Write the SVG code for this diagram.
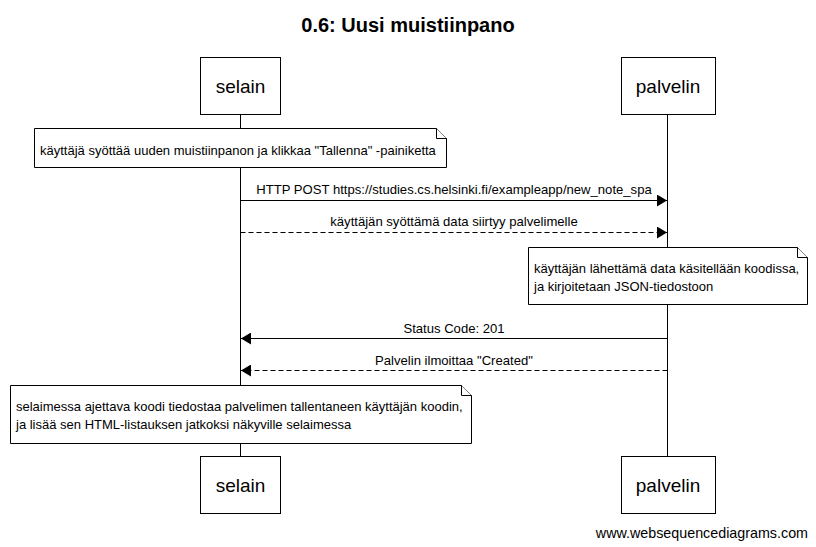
<svg xmlns="http://www.w3.org/2000/svg" width="816" height="547" viewBox="0 0 816 547">
<defs>
<style>
text{font-family:"Liberation Sans",Arial,sans-serif;fill:#000}
.t{font-size:13px}
.p{font-size:19px;text-anchor:middle}
.box{fill:#fff;stroke:#000;stroke-width:1}
.note{fill:#fff;stroke:#000;stroke-width:1}
.life{stroke:#000;stroke-width:1}
.msg{stroke:#000;stroke-width:1;fill:none}
.dash{stroke-dasharray:5,3}
.lbl{font-size:13.1px;text-anchor:middle}
</style>
<marker id="ah" viewBox="0 0 10 12" refX="10" refY="6" markerWidth="10" markerHeight="12" markerUnits="userSpaceOnUse" orient="auto">
<path d="M0,0 L10,6 L0,12 Z" fill="#000"/>
</marker>
</defs>
<rect width="816" height="547" fill="#fff"/>
<text x="408" y="32" style="font-size:20px;font-weight:bold;text-anchor:middle">0.6: Uusi muistiinpano</text>
<g id="lifelines">
<line class="life" x1="240.5" y1="114" x2="240.5" y2="456"/>
<line class="life" x1="667.5" y1="114" x2="667.5" y2="456"/>
</g>
<g id="selain">
<rect class="box" x="200.5" y="57.5" width="80" height="57"/>
<text class="p" x="240.5" y="93">selain</text>
</g>
<g id="palvelin">
<rect class="box" x="621.5" y="57.5" width="94" height="57"/>
<text class="p" x="668" y="93">palvelin</text>
</g>
<g id="selain-bottom">
<rect class="box" x="200.5" y="456.5" width="80" height="57"/>
<text class="p" x="240.5" y="492">selain</text>
</g>
<g id="palvelin-bottom">
<rect class="box" x="621.5" y="456.5" width="94" height="57"/>
<text class="p" x="668" y="492">palvelin</text>
</g>
<g id="note1">
<path class="note" d="M34.5,128.5 H436.5 L446.5,138.5 V167.5 H34.5 Z"/>
<path class="note" d="M436.5,128.5 V138.5 H446.5"/>
<text class="t" x="40" y="155">käyttäjä syöttää uuden muistiinpanon ja klikkaa "Tallenna" -painiketta</text>
</g>
<g id="note2">
<path class="note" d="M528.5,247.5 H797.5 L807.5,257.5 V304.5 H528.5 Z"/>
<path class="note" d="M797.5,247.5 V257.5 H807.5"/>
<text class="t" x="534" y="273">käyttäjän lähettämä data käsitellään koodissa,</text>
<text class="t" x="534" y="291">ja kirjoitetaan JSON-tiedostoon</text>
</g>
<g id="note3">
<path class="note" d="M10.5,385.5 H461.5 L471.5,395.5 V443.5 H10.5 Z"/>
<path class="note" d="M461.5,385.5 V395.5 H471.5"/>
<text class="t" x="16" y="411">selaimessa ajettava koodi tiedostaa palvelimen tallentaneen käyttäjän koodin,</text>
<text class="t" x="16" y="429">ja lisää sen HTML-listauksen jatkoksi näkyville selaimessa</text>
</g>
<g id="connectors">
<line class="msg" x1="240.5" y1="200.5" x2="667" y2="200.5" marker-end="url(#ah)"/>
<text class="lbl" x="454" y="194">HTTP POST https://studies.cs.helsinki.fi/exampleapp/new_note_spa</text>
<line class="msg dash" x1="240.5" y1="232.5" x2="667" y2="232.5" marker-end="url(#ah)"/>
<text class="lbl" x="454" y="226">käyttäjän syöttämä data siirtyy palvelimelle</text>
<line class="msg" x1="667.5" y1="338.5" x2="241" y2="338.5" marker-end="url(#ah)"/>
<text class="lbl" x="454" y="333">Status Code: 201</text>
<line class="msg dash" x1="667.5" y1="370.5" x2="241" y2="370.5" marker-end="url(#ah)"/>
<text class="lbl" x="454" y="365">Palvelin ilmoittaa "Created"</text>
</g>
<text x="808" y="538" style="font-size:14.3px;text-anchor:end">www.websequencediagrams.com</text>
</svg>
